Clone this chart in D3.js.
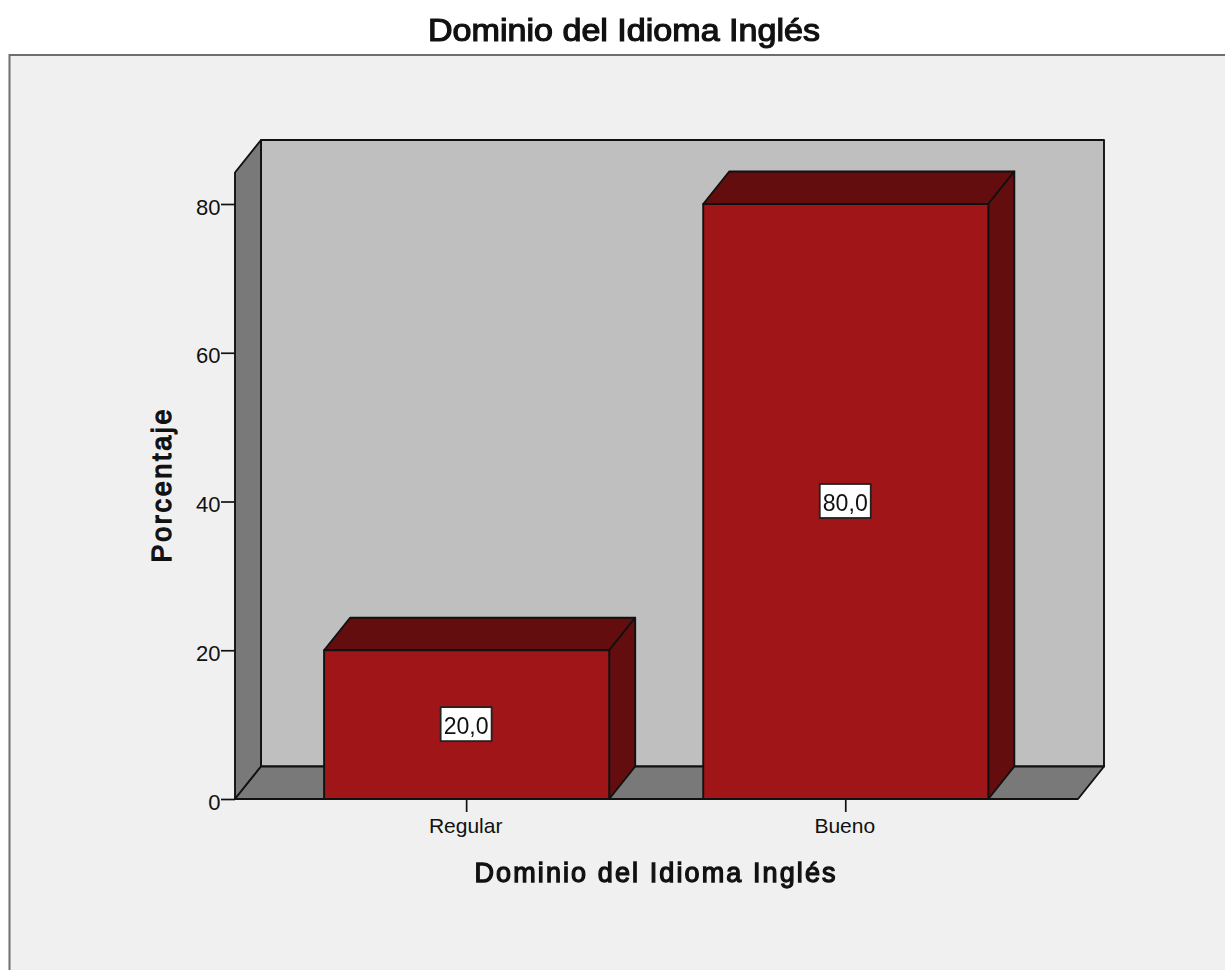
<!DOCTYPE html>
<html><head><meta charset="utf-8">
<script src="https://cdn.jsdelivr.net/npm/d3@7/dist/d3.min.js"></script>
<style>html,body{margin:0;padding:0;background:#fff}svg{display:block;filter:blur(0.45px)}text{font-family:"Liberation Sans",Arial,sans-serif;fill:#111}</style>
</head><body><div id="c"></div>
<script>
const categories = ["Regular","Bueno"];
const values = [20,80];
const valueLabels = ["20,0","80,0"];
const yTicks = [0,20,40,60,80];
const titleText = "Dominio del Idioma Inglés";
const xTitle = "Dominio del Idioma Inglés";
const yTitle = "Porcentaje";

const W=1225,H=970;
const svg=d3.select("#c").append("svg").attr("width",W).attr("height",H);
const y=d3.scaleLinear().domain([0,80]).range([799,204]);
const x=d3.scaleBand().domain(categories).range([235,1077.4]).paddingInner(0.248).paddingOuter(0.235);
const dx=26,dy=-32.5,wallTop=172.5,x0=235,x1=1078,y0=y(0);
const line=d3.line();
const stroke="#111";
const font='"Liberation Sans",Arial,sans-serif';

// panel
svg.append("rect").attr("x",9.5).attr("y",55).attr("width",W+20).attr("height",H+20).attr("fill","#f0f0f0").attr("stroke","#6e6e6e").attr("stroke-width",2);

function poly(pts,fill,sw=1.9){svg.append("path").attr("d",line(pts)+"Z").attr("fill",fill).attr("stroke",stroke).attr("stroke-width",sw).attr("stroke-linejoin","round");}
// back wall, left wall, floor
poly([[x0+dx,wallTop+dy],[x1+dx,wallTop+dy],[x1+dx,y0+dy],[x0+dx,y0+dy]],"#bfbfbf");
poly([[x0,wallTop],[x0+dx,wallTop+dy],[x0+dx,y0+dy],[x0,y0]],"#797979");
poly([[x0,y0],[x0+dx,y0+dy],[x1+dx,y0+dy],[x1,y0]],"#797979");

// y axis ticks and labels
const yAxis=d3.axisLeft(y).tickValues(yTicks).tickSize(14).tickPadding(0.5).tickFormat(d3.format("d"));
const gy=svg.append("g").attr("transform",`translate(${x0},0)`).call(yAxis);
gy.select(".domain").remove();
gy.selectAll("line").attr("stroke",stroke).attr("stroke-width",1.7);
gy.selectAll("text").attr("font-size",22).attr("dy","0.46em").attr("fill","#111").style("font-family",font);

// bars
categories.forEach((c,i)=>{
  const l=x(c),r=l+x.bandwidth(),t=y(values[i]),b=y(0);
  poly([[l,t],[l+dx,t+dy],[r+dx,t+dy],[r,t]],"#630d0f");
  poly([[r,t],[r+dx,t+dy],[r+dx,b+dy],[r,b]],"#630d0f");
  poly([[l,t],[r,t],[r,b],[l,b]],"#a01518");
});

// x axis
const xAxis=d3.axisBottom(x).tickSize(13).tickPadding(6.5);
const gx=svg.append("g").attr("transform",`translate(0,${y0})`).call(xAxis);
gx.select(".domain").attr("d",`M${x0},0H${x1}`).attr("stroke",stroke).attr("stroke-width",1.9);
gx.selectAll("line").attr("stroke",stroke).attr("stroke-width",1.7);
gx.selectAll("text").attr("font-size",21).attr("dx",-1).attr("fill","#111").style("font-family",font);

// value labels
categories.forEach((c,i)=>{
  const cx=x(c)+x.bandwidth()/2-0.5, cy=y(values[i]/2);
  svg.append("rect").attr("x",cx-25.5).attr("y",cy-17.5).attr("width",51).attr("height",34).attr("fill","#fff").attr("stroke","#222").attr("stroke-width",1.8);
  svg.append("text").attr("x",cx).attr("y",cy+9.5).attr("text-anchor","middle").attr("font-size",23).attr("textLength",45).attr("lengthAdjust","spacingAndGlyphs").text(valueLabels[i]);
});

// titles
svg.append("text").attr("x",624).attr("y",40.5).attr("text-anchor","middle").attr("font-size",31).attr("stroke","#111").attr("stroke-width",1.2).attr("textLength",392).attr("lengthAdjust","spacingAndGlyphs").text(titleText);
svg.append("text").attr("x",655).attr("y",882).attr("text-anchor","middle").attr("font-size",27).attr("stroke","#111").attr("stroke-width",1.3).attr("textLength",361).attr("lengthAdjust","spacing").text(xTitle);
svg.append("text").attr("transform","translate(171,486) rotate(-90)").attr("text-anchor","middle").attr("font-size",27).attr("stroke","#111").attr("stroke-width",1.3).attr("textLength",153).attr("lengthAdjust","spacing").text(yTitle);
</script></body></html>
